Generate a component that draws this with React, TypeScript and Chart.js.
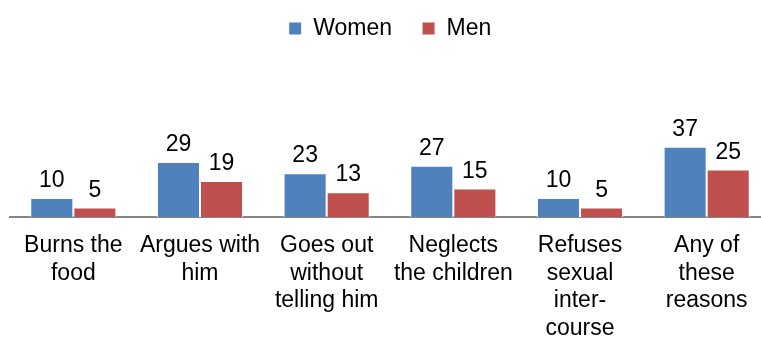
import React, { useEffect, useRef } from "react";
import { Chart, registerables } from "chart.js";

Chart.register(...registerables);

const categories: string[][] = [
  ["Burns the", "food"],
  ["Argues with", "him"],
  ["Goes out", "without", "telling him"],
  ["Neglects", "the children"],
  ["Refuses", "sexual", "inter-", "course"],
  ["Any of", "these", "reasons"],
];
const women: number[] = [10, 29, 23, 27, 10, 37];
const men: number[] = [5, 19, 13, 15, 5, 25];

const FONT = "Arial, 'Liberation Sans', sans-serif";

const valueLabels = {
  id: "valueLabels",
  afterDatasetsDraw(chart: any) {
    const ctx = chart.ctx;
    ctx.save();
    ctx.font = `23px ${FONT}`;
    ctx.fillStyle = "#000";
    ctx.textAlign = "center";
    ctx.textBaseline = "alphabetic";
    chart.data.datasets.forEach((ds: any, di: number) => {
      const meta = chart.getDatasetMeta(di);
      meta.data.forEach((el: any, i: number) => {
        ctx.fillText(String(ds.data[i]), el.x, el.y - 11);
      });
    });
    ctx.restore();
  },
};

export default function App() {
  const ref = useRef<HTMLCanvasElement>(null);
  useEffect(() => {
    document.body.style.overflow = "hidden";
    const chart = new Chart(ref.current!, {
      type: "bar",
      data: {
        labels: categories,
        datasets: [
          {
            label: "Women",
            data: women,
            backgroundColor: "#4F81BD",
            borderColor: "#ffffff",
            borderWidth: 1,
          },
          {
            label: "Men",
            data: men,
            backgroundColor: "#C0504D",
            borderColor: "#ffffff",
            borderWidth: 1,
          },
        ],
      },
      options: {
        animation: false,
        responsive: false,
        layout: { padding: { left: 10, right: 0, top: -13, bottom: 0 } },
        datasets: { bar: { categoryPercentage: 0.68, barPercentage: 1 } },
        plugins: {
          legend: {
            display: true,
            position: "top",
            labels: {
              boxWidth: 13,
              boxHeight: 13,
              padding: 30,
              color: "#000",
              font: { family: FONT, size: 23 },
            },
          },
          tooltip: { enabled: false },
        },
        scales: {
          x: {
            grid: { display: false, drawTicks: false },
            border: { display: true, color: "#868686", width: 2 },
            ticks: {
              color: "#000",
              font: { family: FONT, size: 23, lineHeight: 1.2 },
              maxRotation: 0,
              minRotation: 0,
              autoSkip: false,
              padding: 15,
            },
            afterFit: (scale: any) => {
              scale.height = 120;
            },
          },
          y: {
            display: false,
            min: 0,
            max: 88,
          },
        },
      },
      plugins: [valueLabels],
    });
    return () => chart.destroy();
  }, []);
  return (
    <div style={{ position: "fixed", left: 0, top: 0, width: 770, height: 337 }}>
      <canvas ref={ref} width={770} height={337} style={{ display: "block" }} />
    </div>
  );
}
